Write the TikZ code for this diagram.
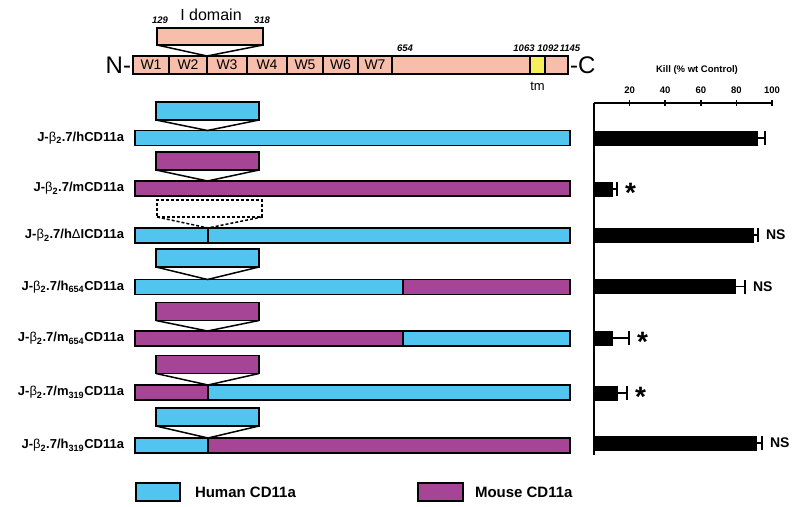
\documentclass[tikz,border=0pt]{standalone}
\usepackage{fontspec}
\setmainfont{Liberation Sans}
\usetikzlibrary{positioning,calc}
\definecolor{hblue}{RGB}{82,196,240}
\definecolor{mpurp}{RGB}{166,68,150}
\definecolor{salmon}{RGB}{248,190,172}
\definecolor{tmyel}{RGB}{245,240,90}
\newcommand{\jb}{J-{\mdseries β}\textsubscript{2}.7/}

\begin{document}
\begin{tikzpicture}[x=1pt, y=-1pt, line width=1.5pt,
  every node/.style={inner sep=0pt, outer sep=0pt},
  dom/.style={draw, fill=salmon, minimum height=18pt, anchor=west, font=\fontsize{14}{14}\selectfont},
  hb/.style={draw, fill=hblue, minimum height=15pt, anchor=west},
  mb/.style={draw, fill=mpurp, minimum height=15pt, anchor=west},
  hi/.style={draw, fill=hblue, minimum width=103pt, minimum height=18pt},
  mi/.style={draw, fill=mpurp, minimum width=103pt, minimum height=18pt},
  lab/.style={font=\fontsize{13}{13}\selectfont\bfseries},
  num/.style={font=\fontsize{9.5}{9.5}\selectfont\bfseries\itshape},
  kb/.style={fill=black, minimum height=15pt, anchor=west},
  sig/.style={font=\fontsize{14}{14}\selectfont\bfseries, anchor=west},
  ast/.style={font=\fontsize{28}{28}\selectfont\bfseries, anchor=base west},
  tk/.style={font=\fontsize{9.5}{9.5}\selectfont\bfseries}]
  \useasboundingbox (0,0) rectangle (800,506);
  % full length chain: W1-W7 repeats, stalk, tm and tail
  \node[dom, minimum width=36pt] (w1) at (133,65) {W1};
  \node[dom, minimum width=38pt, right=0pt of w1] (w2) {W2};
  \node[dom, minimum width=40pt, right=0pt of w2] (w3) {W3};
  \node[dom, minimum width=40pt, right=0pt of w3] (w4) {W4};
  \node[dom, minimum width=36pt, right=0pt of w4] (w5) {W5};
  \node[dom, minimum width=35pt, right=0pt of w5] (w6) {W6};
  \node[dom, minimum width=34pt, right=0pt of w6] (w7) {W7};
  \node[dom, minimum width=138pt, right=0pt of w7] (stalk) {};
  \node[dom, fill=tmyel, minimum width=15pt, right=0pt of stalk] (tm) {};
  \node[dom, minimum width=23pt, right=0pt of tm] (ctail) {};
  \node[font=\fontsize{24}{24}\selectfont, left=2pt of w1] (nterm) {N-};
  \node[font=\fontsize{24}{24}\selectfont, right=2pt of ctail] (cterm) {-C};
  \node[font=\fontsize{13}{13}\selectfont, below=8pt of tm] (tmlab) {tm};
  \node[draw, fill=salmon, minimum width=106pt, minimum height=17pt] (idom) at (210,36.5) {};
  \draw (idom.south west) -- (w3.north west) -- (idom.south east);
  \node[font=\fontsize{16}{16}\selectfont] (idlab) at (211,15) {I domain};
  \node[num] (n129) at (160,20) {129};
  \node[num] (n318) at (262,20) {318};
  \node[num] (n654) at (405,48) {654};
  \node[num] (n1063) at (524,48) {1063};
  \node[num] (n1092) at (548,48) {1092};
  \node[num] (n1145) at (570,48) {1145};
  % constructs
  \node[hi] (i1) at (207.5,111) {};
  \node[hb, minimum width=435pt] (b1) at (135,138) {};
  \draw (i1.south west) -- (i1.south |- b1.north) -- (i1.south east);
  \node[lab, left=11pt of b1] (l1) {\jb hCD11a};
  \node[mi] (i2) at (207.5,161) {};
  \node[mb, minimum width=435pt] (b2) at (135,188.5) {};
  \draw (i2.south west) -- (i2.south |- b2.north) -- (i2.south east);
  \node[lab, left=11pt of b2] (l2) {\jb mCD11a};
  \node[draw, dash pattern=on 3pt off 2pt, minimum width=105pt, minimum height=17pt] (i3) at (209.5,208.5) {};
  \node[hb, minimum width=73pt] (b3a) at (135,235.5) {};
  \node[hb, minimum width=362pt, right=0pt of b3a] (b3b) {};
  \draw[dash pattern=on 3pt off 2pt] (i3.south west) -- (b3a.north east) -- (i3.south east);
  \node[lab, left=11pt of b3a] (l3) {\jb h{\mdseries Δ}ICD11a};
  \node[hi] (i4) at (207.5,258) {};
  \node[hb, minimum width=268pt] (b4a) at (135,287) {};
  \node[mb, minimum width=167pt, right=0pt of b4a] (b4b) {};
  \draw (i4.south west) -- (i4.south |- b4a.north) -- (i4.south east);
  \node[lab, left=11pt of b4a] (l4) {\jb h\textsubscript{654}CD11a};
  \node[mi] (i5) at (207.5,311.5) {};
  \node[mb, minimum width=268pt] (b5a) at (135,338.5) {};
  \node[hb, minimum width=167pt, right=0pt of b5a] (b5b) {};
  \draw (i5.south west) -- (i5.south |- b5a.north) -- (i5.south east);
  \node[lab, left=11pt of b5a] (l5) {\jb m\textsubscript{654}CD11a};
  \node[mi] (i6) at (207.5,364.5) {};
  \node[mb, minimum width=73pt] (b6a) at (135,392.5) {};
  \node[hb, minimum width=362pt, right=0pt of b6a] (b6b) {};
  \draw (i6.south west) -- (b6a.north east) -- (i6.south east);
  \node[lab, left=11pt of b6a] (l6) {\jb m\textsubscript{319}CD11a};
  \node[hi] (i7) at (207.5,417) {};
  \node[hb, minimum width=73pt] (b7a) at (135,445.5) {};
  \node[mb, minimum width=362pt, right=0pt of b7a] (b7b) {};
  \draw (i7.south west) -- (b7a.north east) -- (i7.south east);
  \node[lab, left=11pt of b7a] (l7) {\jb h\textsubscript{319}CD11a};
  % kill chart
  \node[tk] (ktitle) at (697,70) {Kill (\% wt Control)};
  \draw (594,103) -- (772,103);
  \draw (594,103) -- (594,455);
  \draw (629.6,100) -- (629.6,106); \node[tk] (t20) at (629.6,90) {20};
  \draw (665.2,100) -- (665.2,106); \node[tk] (t40) at (665.2,90) {40};
  \draw (700.8,100) -- (700.8,106); \node[tk] (t60) at (700.8,90) {60};
  \draw (736.4,100) -- (736.4,106); \node[tk] (t80) at (736.4,90) {80};
  \draw (772,100) -- (772,106); \node[tk] (t100) at (772,90) {100};
  \node[kb, minimum width=164pt] (k1) at (594,138) {};
  \draw (k1.east) -- ++(7,0) coordinate (e1) ++(0,-7) -- ++(0,14);
  \node[kb, minimum width=19pt] (k2) at (594,189) {};
  \draw (k2.east) -- ++(4,0) coordinate (e2) ++(0,-7) -- ++(0,14);
  \node[ast] (s2) at ([xshift=8pt,yshift=-13pt]e2) {*};
  \node[kb, minimum width=160pt] (k3) at (594,235) {};
  \draw (k3.east) -- ++(4,0) coordinate (e3) ++(0,-7) -- ++(0,14);
  \node[sig, right=8pt of e3] (ns3) {NS};
  \node[kb, minimum width=142pt] (k4) at (594,286.5) {};
  \draw (k4.east) -- ++(9,0) coordinate (e4) ++(0,-7) -- ++(0,14);
  \node[sig, right=8pt of e4] (ns4) {NS};
  \node[kb, minimum width=19pt] (k5) at (594,338) {};
  \draw (k5.east) -- ++(16,0) coordinate (e5) ++(0,-7) -- ++(0,14);
  \node[ast] (s5) at ([xshift=8pt,yshift=-13pt]e5) {*};
  \node[kb, minimum width=24pt] (k6) at (594,393) {};
  \draw (k6.east) -- ++(9,0) coordinate (e6) ++(0,-7) -- ++(0,14);
  \node[ast] (s6) at ([xshift=8pt,yshift=-13pt]e6) {*};
  \node[kb, minimum width=163pt] (k7) at (594,443) {};
  \draw (k7.east) -- ++(5,0) coordinate (e7) ++(0,-7) -- ++(0,14);
  \node[sig, right=8pt of e7] (ns7) {NS};
  % legend
  \node[draw, fill=hblue, minimum width=44pt, minimum height=18pt] (keyh) at (158,492) {};
  \node[font=\fontsize{15}{15}\selectfont\bfseries, right=15pt of keyh] (keyhl) {Human CD11a};
  \node[draw, fill=mpurp, minimum width=45pt, minimum height=18pt] (keym) at (440.5,492) {};
  \node[font=\fontsize{15}{15}\selectfont\bfseries, right=12pt of keym] (keyml) {Mouse CD11a};
\end{tikzpicture}
\end{document}
